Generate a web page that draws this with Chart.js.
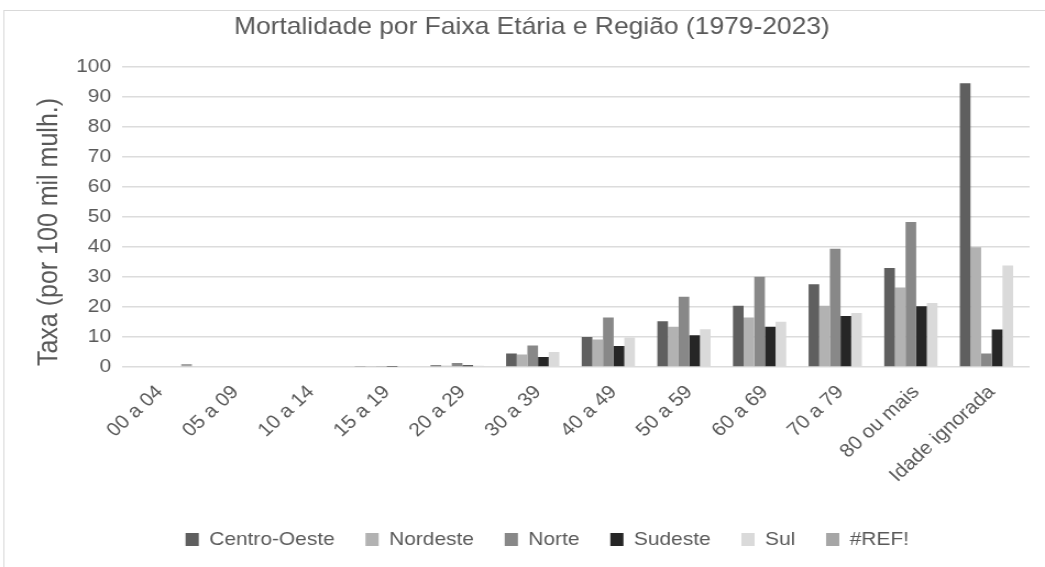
<!DOCTYPE html>
<html>
<head>
<meta charset="utf-8">
<script src="https://cdn.jsdelivr.net/npm/chart.js@4/dist/chart.umd.min.js"></script>
<style>
  html, body { margin: 0; padding: 0; background: #fff; overflow: hidden; }
  #wrap { position: relative; width: 950px; height: 567px; transform: scale(1.1, 1); transform-origin: 0 0; }
</style>
</head>
<body>
<div id="wrap"><canvas id="chart" width="950" height="567"></canvas></div>
<script>
// categories and series
const faixas = ['00 a 04', '05 a 09', '10 a 14', '15 a 19', '20 a 29', '30 a 39', '40 a 49', '50 a 59', '60 a 69', '70 a 79', '80 ou mais', 'Idade ignorada'];
const centroOeste = [0, 0, 0, 0.2, 0.6, 4.5, 10.0, 15.2, 20.4, 27.6, 33.0, 94.5];
const nordeste    = [0, 0, 0, 0.2, 0.4, 4.2, 9.2, 13.4, 16.5, 20.4, 26.5, 39.9];
const norte       = [0, 0, 0, 0.3, 1.3, 7.2, 16.5, 23.4, 30.1, 39.4, 48.3, 4.5];
const sudeste     = [0, 0, 0, 0.1, 0.6, 3.3, 7.0, 10.6, 13.4, 17.0, 20.2, 12.5];
const sul         = [0, 0, 0, 0.2, 0.4, 5.0, 9.8, 12.6, 15.1, 18.0, 21.3, 33.8];
const ref         = [1.0, 0, 0, 0, 0, 0, 0, 0, 0, 0, 0, 0];

const textColor = '#595959';
const fontFamily = '"Liberation Sans", Arial, sans-serif';
Chart.defaults.font.family = fontFamily;
Chart.defaults.color = textColor;

// light frame around the chart box + the y axis title (sits a bit below the plot centre)
const frame = {
    id: 'frame',
    afterLayout(chart) {
        // title and legend sit a little right of the canvas centre in the original
        chart.titleBlock.left += 11;
        chart.titleBlock.right += 11;
        chart.legend.left += 25;
        chart.legend.right += 25;
    },
    beforeDraw(chart) {
        const c = chart.ctx;
        c.save();
        c.strokeStyle = '#d9d9d9';
        c.lineWidth = 1;
        c.strokeRect(3.5, 10.5, chart.width + 10, chart.height + 10);
        c.restore();
    },
    afterDraw(chart) {
        const c = chart.ctx;
        c.save();
        c.translate(45.5, 232);
        c.rotate(-Math.PI / 2);
        c.fillStyle = textColor;
        c.font = '25px ' + fontFamily;
        c.textAlign = 'center';
        c.textBaseline = 'middle';
        c.fillText('Taxa (por 100 mil mulh.)', 0, 0);
        c.restore();
    }
};

function serie(label, data, color) {
    return { label: label, data: data, backgroundColor: color, borderWidth: 0,
             categoryPercentage: 0.845, barPercentage: 1 };
}

new Chart(document.getElementById('chart'), {
    type: 'bar',
    data: {
        labels: faixas,
        datasets: [
            serie('Centro-Oeste', centroOeste, '#5f5f5f'),
            serie('Nordeste', nordeste, '#b2b2b2'),
            serie('Norte', norte, '#888888'),
            serie('Sudeste', sudeste, '#262626'),
            serie('Sul', sul, '#dadada'),
            serie('#REF!', ref, '#a6a6a6')
        ]
    },
    options: {
        responsive: false,
        animation: false,
        layout: { padding: { left: 9, right: 14, top: 10, bottom: 8 } },
        plugins: {
            title: {
                display: true,
                text: 'Mortalidade por Faixa Etária e Região (1979-2023)',
                color: textColor,
                font: { size: 24, weight: 'normal' },
                padding: { top: 3, bottom: 25 }
            },
            legend: {
                position: 'bottom',
                labels: {
                    boxWidth: 12, boxHeight: 13, padding: 28,
                    color: textColor,
                    font: { size: 19 }
                }
            },
            tooltip: { enabled: false }
        },
        scales: {
            x: {
                grid: { display: false },
                border: { display: false },
                ticks: {
                    color: textColor, font: { size: 19 },
                    minRotation: 45, maxRotation: 45, padding: 6, autoSkip: false
                },
                afterFit(s) { s.height = 135; }
            },
            y: {
                min: 0, max: 100,
                grid: { color: '#dcdcdc', lineWidth: 1.5, drawTicks: false },
                border: { display: false },
                ticks: { stepSize: 10, color: textColor, font: { size: 19 }, padding: 10 },
                afterFit(s) { s.width = 102; }
            }
        }
    },
    plugins: [frame]
});
</script>
</body>
</html>
